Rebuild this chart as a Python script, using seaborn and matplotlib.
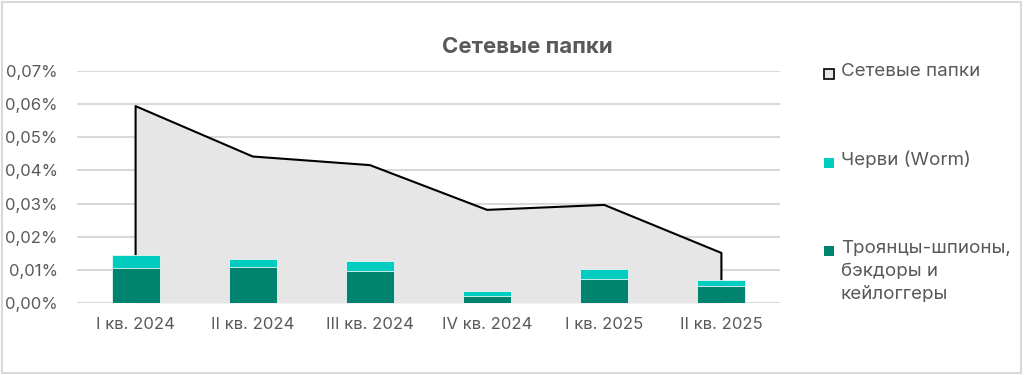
import matplotlib
matplotlib.use('Agg')
import matplotlib.pyplot as plt
import matplotlib.patches as mpatches
from matplotlib.ticker import FuncFormatter
import numpy as np
import pandas as pd
import seaborn as sns

# data (shares, %)
quarters = ['I кв. 2024', 'II кв. 2024', 'III кв. 2024',
            'IV кв. 2024', 'I кв. 2025', 'II кв. 2025']
network_folders = [0.0594, 0.0442, 0.0416, 0.0281, 0.0296, 0.0151]
trojans = [0.0107, 0.0110, 0.0098, 0.0020, 0.0072, 0.0050]
worms = [0.0038, 0.0023, 0.0030, 0.0015, 0.0032, 0.0018]

labels = ['Сетевые папки', 'Черви (Worm)',
          'Троянцы-шпионы,\nбэкдоры и\nкейлоггеры']

AREA = '#e6e6e6'
WORM = '#00ccc0'
TROJAN = '#00836e'
TEXT = '#595959'
GRID = '#d9d9d9'

sns.set_theme(style='white')
plt.rcParams['font.family'] = ['Inter', 'DejaVu Sans']

df = pd.DataFrame({'quarter': quarters, 'area': network_folders,
                   'trojan': trojans,
                   'total': np.array(trojans) + np.array(worms)})
x = np.arange(len(quarters))

fig = plt.figure(figsize=(10.24, 3.75), dpi=100)
ax = fig.add_axes([77 / 1024, 1 - 303 / 375, 703 / 1024, 232 / 375])

# area series
ax.fill_between(x, 0, df['area'], color=AREA, zorder=1, lw=0)
ax.plot(np.r_[x[0], x, x[-1]], np.r_[0, df['area'], 0],
        color='black', lw=1.5, zorder=3)

# stacked bars
sns.barplot(data=df, x='quarter', y='total', color=WORM, width=0.41,
            saturation=1, ax=ax, zorder=4, edgecolor='#e8f7f4', linewidth=0.6)
sns.barplot(data=df, x='quarter', y='trojan', color=TROJAN, width=0.41,
            saturation=1, ax=ax, zorder=5, edgecolor='#e8f7f4', linewidth=0.6)

ax.set_xlim(-0.5, len(quarters) - 0.5)
ax.set_ylim(0, 0.07)
ax.set_yticks(np.arange(0, 0.0701, 0.01))
ax.yaxis.set_major_formatter(FuncFormatter(lambda v, p: f'{v:.2f}%'.replace('.', ',')))
ax.grid(axis='y', color=GRID, lw=1.5, zorder=0)
ax.set_axisbelow(True)
for s in ax.spines.values():
    s.set_visible(False)
ax.set_xlabel('')
ax.set_ylabel('')
ax.tick_params(axis='both', length=0, labelsize=12, colors=TEXT, pad=10)
ax.tick_params(axis='y', pad=14)

fig.text(527 / 1024, 1 - 47 / 375, 'Сетевые папки', ha='center', va='center',
         fontsize=16, fontweight='bold', color=TEXT)

# legend drawn at the right
leg_y = [74, 163, 251]
colors = [AREA, WORM, TROJAN]
for lab, yy, c in zip(labels, leg_y, colors):
    ec = 'black' if c == AREA else c
    fig.patches.append(mpatches.Rectangle(
        (824 / 1024, 1 - (yy + 5) / 375), 10 / 1024, 10 / 375,
        transform=fig.transFigure, facecolor=c, edgecolor=ec,
        lw=1.2 if c == AREA else 0))
    fig.text(841 / 1024, 1 - (yy - 11) / 375, lab, ha='left', va='top',
             fontsize=13.5, color=TEXT, linespacing=1.45)

# chart border
fig.patches.append(mpatches.Rectangle(
    (2 / 1024, 2 / 375), 1019 / 1024, 371 / 375, transform=fig.transFigure,
    fill=False, edgecolor=GRID, lw=1.5))

fig.savefig('out.png', dpi=100)
